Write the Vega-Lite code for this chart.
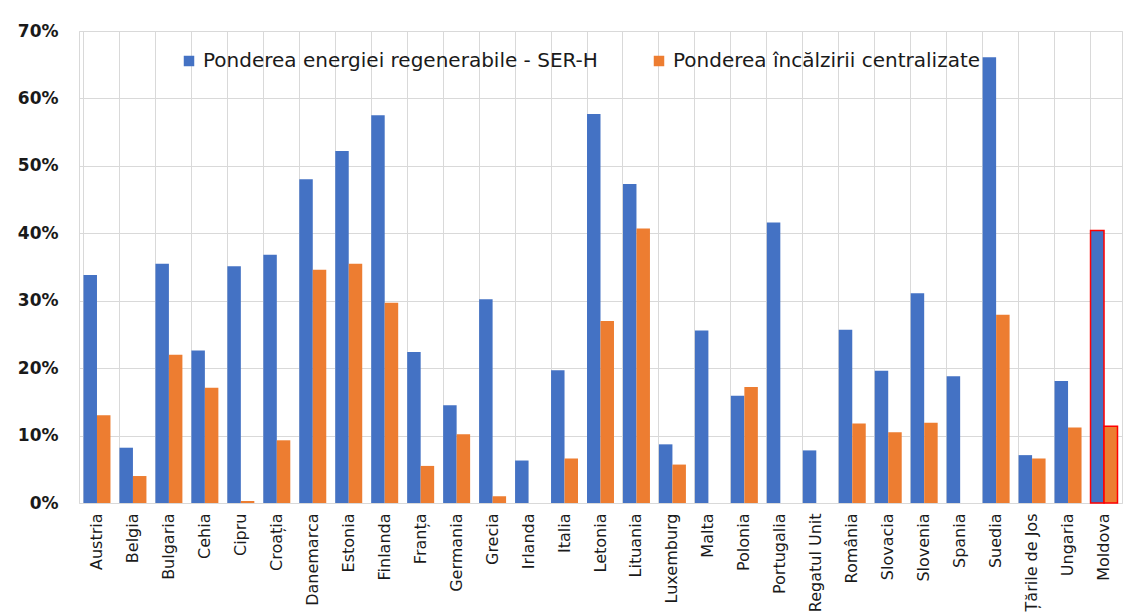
{
  "$schema": "https://vega.github.io/schema/vega-lite/v6.json",
  "width": 1043,
  "height": 472,
  "autosize": {"type": "none"},
  "padding": {"left": 79, "top": 31, "right": 4, "bottom": 109},
  "background": "white",
  "config": {
    "font": "DejaVu Sans",
    "view": {"stroke": "#d9d9d9", "strokeWidth": 1},
    "axis": {"gridColor": "#d9d9d9", "gridWidth": 1, "domain": false, "ticks": false}
  },
  "data": {
    "values": [
      {"country": "Austria", "series": "Ponderea energiei regenerabile - SER-H", "value": 33.8},
      {"country": "Austria", "series": "Ponderea încălzirii centralizate", "value": 13.0},
      {"country": "Belgia", "series": "Ponderea energiei regenerabile - SER-H", "value": 8.2},
      {"country": "Belgia", "series": "Ponderea încălzirii centralizate", "value": 4.0},
      {"country": "Bulgaria", "series": "Ponderea energiei regenerabile - SER-H", "value": 35.5},
      {"country": "Bulgaria", "series": "Ponderea încălzirii centralizate", "value": 22.0},
      {"country": "Cehia", "series": "Ponderea energiei regenerabile - SER-H", "value": 22.6},
      {"country": "Cehia", "series": "Ponderea încălzirii centralizate", "value": 17.1},
      {"country": "Cipru", "series": "Ponderea energiei regenerabile - SER-H", "value": 35.1},
      {"country": "Cipru", "series": "Ponderea încălzirii centralizate", "value": 0.3},
      {"country": "Croația", "series": "Ponderea energiei regenerabile - SER-H", "value": 36.8},
      {"country": "Croația", "series": "Ponderea încălzirii centralizate", "value": 9.3},
      {"country": "Danemarca", "series": "Ponderea energiei regenerabile - SER-H", "value": 48.0},
      {"country": "Danemarca", "series": "Ponderea încălzirii centralizate", "value": 34.6},
      {"country": "Estonia", "series": "Ponderea energiei regenerabile - SER-H", "value": 52.2},
      {"country": "Estonia", "series": "Ponderea încălzirii centralizate", "value": 35.5},
      {"country": "Finlanda", "series": "Ponderea energiei regenerabile - SER-H", "value": 57.5},
      {"country": "Finlanda", "series": "Ponderea încălzirii centralizate", "value": 29.7},
      {"country": "Franța", "series": "Ponderea energiei regenerabile - SER-H", "value": 22.4},
      {"country": "Franța", "series": "Ponderea încălzirii centralizate", "value": 5.5},
      {"country": "Germania", "series": "Ponderea energiei regenerabile - SER-H", "value": 14.5},
      {"country": "Germania", "series": "Ponderea încălzirii centralizate", "value": 10.2},
      {"country": "Grecia", "series": "Ponderea energiei regenerabile - SER-H", "value": 30.2},
      {"country": "Grecia", "series": "Ponderea încălzirii centralizate", "value": 1.0},
      {"country": "Irlanda", "series": "Ponderea energiei regenerabile - SER-H", "value": 6.3},
      {"country": "Irlanda", "series": "Ponderea încălzirii centralizate", "value": 0},
      {"country": "Italia", "series": "Ponderea energiei regenerabile - SER-H", "value": 19.7},
      {"country": "Italia", "series": "Ponderea încălzirii centralizate", "value": 6.6},
      {"country": "Letonia", "series": "Ponderea energiei regenerabile - SER-H", "value": 57.7},
      {"country": "Letonia", "series": "Ponderea încălzirii centralizate", "value": 27.0},
      {"country": "Lituania", "series": "Ponderea energiei regenerabile - SER-H", "value": 47.3},
      {"country": "Lituania", "series": "Ponderea încălzirii centralizate", "value": 40.7},
      {"country": "Luxemburg", "series": "Ponderea energiei regenerabile - SER-H", "value": 8.7},
      {"country": "Luxemburg", "series": "Ponderea încălzirii centralizate", "value": 5.7},
      {"country": "Malta", "series": "Ponderea energiei regenerabile - SER-H", "value": 25.6},
      {"country": "Malta", "series": "Ponderea încălzirii centralizate", "value": 0},
      {"country": "Polonia", "series": "Ponderea energiei regenerabile - SER-H", "value": 15.9},
      {"country": "Polonia", "series": "Ponderea încălzirii centralizate", "value": 17.2},
      {"country": "Portugalia", "series": "Ponderea energiei regenerabile - SER-H", "value": 41.6},
      {"country": "Portugalia", "series": "Ponderea încălzirii centralizate", "value": 0},
      {"country": "Regatul Unit", "series": "Ponderea energiei regenerabile - SER-H", "value": 7.8},
      {"country": "Regatul Unit", "series": "Ponderea încălzirii centralizate", "value": 0},
      {"country": "România", "series": "Ponderea energiei regenerabile - SER-H", "value": 25.7},
      {"country": "România", "series": "Ponderea încălzirii centralizate", "value": 11.8},
      {"country": "Slovacia", "series": "Ponderea energiei regenerabile - SER-H", "value": 19.6},
      {"country": "Slovacia", "series": "Ponderea încălzirii centralizate", "value": 10.5},
      {"country": "Slovenia", "series": "Ponderea energiei regenerabile - SER-H", "value": 31.1},
      {"country": "Slovenia", "series": "Ponderea încălzirii centralizate", "value": 11.9},
      {"country": "Spania", "series": "Ponderea energiei regenerabile - SER-H", "value": 18.8},
      {"country": "Spania", "series": "Ponderea încălzirii centralizate", "value": 0},
      {"country": "Suedia", "series": "Ponderea energiei regenerabile - SER-H", "value": 66.1},
      {"country": "Suedia", "series": "Ponderea încălzirii centralizate", "value": 27.9},
      {"country": "Țările de Jos", "series": "Ponderea energiei regenerabile - SER-H", "value": 7.1},
      {"country": "Țările de Jos", "series": "Ponderea încălzirii centralizate", "value": 6.6},
      {"country": "Ungaria", "series": "Ponderea energiei regenerabile - SER-H", "value": 18.1},
      {"country": "Ungaria", "series": "Ponderea încălzirii centralizate", "value": 11.2},
      {"country": "Moldova", "series": "Ponderea energiei regenerabile - SER-H", "value": 40.4},
      {"country": "Moldova", "series": "Ponderea încălzirii centralizate", "value": 11.4}
    ]
  },
  "mark": {"type": "bar"},
  "encoding": {
    "x": {
      "field": "country",
      "type": "nominal",
      "sort": null,
      "scale": {"paddingInner": 0.25, "paddingOuter": 0.125},
      "axis": {
        "title": null,
        "labelAngle": -90,
        "labelFontSize": 16,
        "labelColor": "#1a1a1a",
        "labelPadding": 10,
        "grid": true,
        "bandPosition": 0,
        "labelBound": false,
        "labelOverlap": false
      }
    },
    "xOffset": {
      "field": "series",
      "type": "nominal",
      "sort": ["Ponderea energiei regenerabile - SER-H", "Ponderea încălzirii centralizate"]
    },
    "y": {
      "field": "value",
      "type": "quantitative",
      "scale": {"domain": [0, 70], "nice": false},
      "axis": {
        "title": null,
        "values": [0, 10, 20, 30, 40, 50, 60, 70],
        "labelExpr": "datum.value + '%'",
        "labelFontSize": 17,
        "labelFontWeight": "bold",
        "labelColor": "#1a1a1a",
        "labelPadding": 21
      }
    },
    "color": {
      "field": "series",
      "type": "nominal",
      "sort": ["Ponderea energiei regenerabile - SER-H", "Ponderea încălzirii centralizate"],
      "scale": {"range": ["#4472C4", "#ED7D31"]},
      "legend": {
        "title": null,
        "orient": "none",
        "legendX": 100,
        "legendY": 20,
        "direction": "horizontal",
        "symbolType": "square",
        "symbolSize": 110,
        "labelFontSize": 20,
        "labelColor": "#1a1a1a",
        "labelLimit": 500,
        "columnPadding": 51,
        "symbolOpacity": 1
      }
    },
    "stroke": {
      "condition": {"test": "datum.country == 'Moldova'", "value": "#ff0000"},
      "value": null
    },
    "strokeWidth": {
      "condition": {"test": "datum.country == 'Moldova'", "value": 1.5},
      "value": 0
    }
  }
}
